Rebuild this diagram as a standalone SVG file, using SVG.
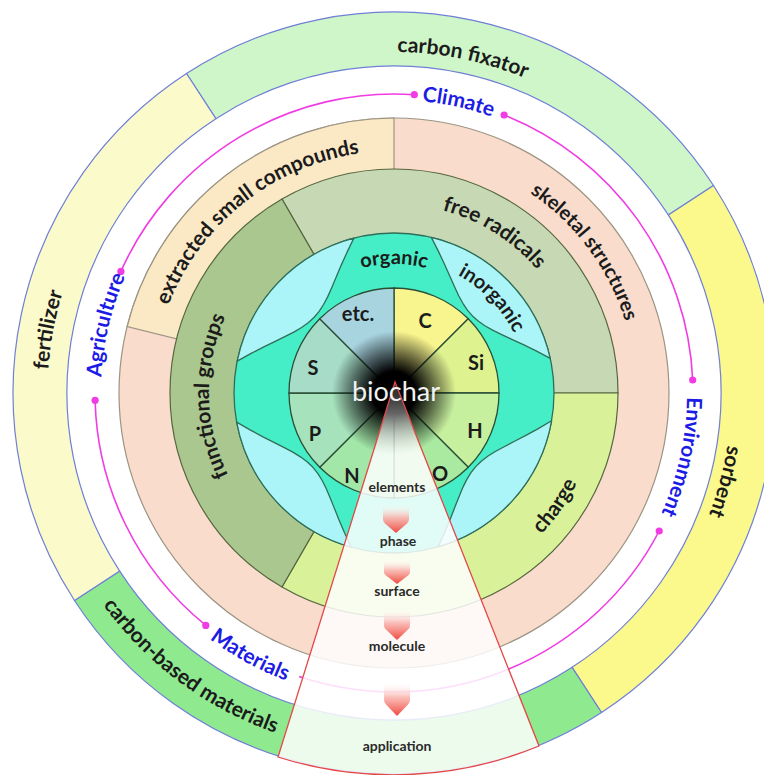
<svg xmlns="http://www.w3.org/2000/svg" width="764" height="775" viewBox="0 0 764 775">
<style>
.lbl{font-family:Lato,'Liberation Sans',sans-serif;font-weight:700;fill:#1b1b1b}
.blue{font-family:Lato,'Liberation Sans',sans-serif;font-weight:700;fill:#1c1ce6}
.el{font-family:Lato,'Liberation Sans',sans-serif;font-weight:700;fill:#1b1b1b;font-size:20px;text-anchor:middle;dominant-baseline:central}
.wl{font-family:Lato,'Liberation Sans',sans-serif;font-weight:700;fill:#2a2a2a;font-size:14px;text-anchor:middle}
.outer{stroke:#6f7fd6;stroke-width:1.2}
.r3{stroke:#9c9484;stroke-width:1.2}
.r2{stroke:#55663f;stroke-width:1.2}
.r1{stroke:#2f6e58;stroke-width:1.3;stroke-linejoin:round}
.r0{stroke:#2a4f36;stroke-width:1.3}
.mag{fill:none;stroke:#f03ce2;stroke-width:1.6}
.dot{fill:#f03ce2}
</style>
<defs>
<radialGradient id="core" cx="394" cy="393" r="62" gradientUnits="userSpaceOnUse">
<stop offset="0" stop-color="#000" stop-opacity="1"/>
<stop offset="0.35" stop-color="#000" stop-opacity="1"/>
<stop offset="0.65" stop-color="#000" stop-opacity="0.55"/>
<stop offset="1" stop-color="#000" stop-opacity="0"/>
</radialGradient>
<linearGradient id="wfill" x1="0" y1="395" x2="0" y2="455" gradientUnits="userSpaceOnUse">
<stop offset="0" stop-color="#fff" stop-opacity="0.2"/>
<stop offset="1" stop-color="#fff" stop-opacity="0.84"/>
</linearGradient>
<linearGradient id="ag" x1="0" y1="0" x2="0" y2="1">
<stop offset="0" stop-color="#fff" stop-opacity="0"/>
<stop offset="0.45" stop-color="#f9b2ac" stop-opacity="0.85"/>
<stop offset="1" stop-color="#ee4a40"/>
</linearGradient>
<path id="lens" d="M -84.8 -135.7 L -69.6 -130.9 L -56.2 -126.2 L -44.3 -121.7 L -33.8 -117.8 L -24.3 -114.4 L -15.7 -112 L -7.7 -110.5 L 0 -110 L 7.7 -110.5 L 15.7 -112 L 24.3 -114.4 L 33.8 -117.8 L 44.3 -121.7 L 56.2 -126.2 L 69.6 -130.9 L 84.8 -135.7 A 160 160 0 0 0 -84.8 -135.7 Z"/>
<path id="arr" d="M -13 0 L 13 0 L 13 16 Q 13 18 11 20 L 0 30 L -11 20 Q -13 18 -13 16 Z"/>
<path id="p-cf" d="M 231.8 93 A 341 341 0 0 1 661.2 181.2"/>
<path id="p-so" d="M 699.9 250.4 A 337.5 337.5 0 0 1 587.6 669.5"/>
<path id="p-cb" d="M 34.6 414.3 A 360 360 0 0 0 477.4 743.2"/>
<path id="p-fe" d="M 92.8 564.1 A 346.4 346.4 0 0 1 173.2 126.1"/>
<path id="p-cl" d="M 258.7 133.1 A 293 293 0 0 1 626.5 214.6"/>
<path id="p-en" d="M 653.9 257.7 A 293 293 0 0 1 572.4 625.5"/>
<path id="p-ma" d="M 108 504.5 A 306 306 0 0 0 454.1 694"/>
<path id="p-ag" d="M 132.2 524.6 A 293 293 0 0 1 218.9 158.1"/>
<path id="p-ex" d="M 153.5 365.6 A 242 242 0 0 1 421.4 152.5"/>
<path id="p-sk" d="M 429.8 153.7 A 242 242 0 0 1 633.3 428.8"/>
<path id="p-fg" d="M 265.5 526.1 A 185 185 0 0 1 260.9 264.5"/>
<path id="p-fr" d="M 351.5 208.8 A 189 189 0 0 1 578.2 350.5"/>
<path id="p-ch" d="M 446.8 590 A 204 204 0 0 0 597.2 375.2"/>
<path id="p-or" d="M 311.1 294.2 A 129 129 0 0 1 476.9 294.2"/>
<path id="p-in" d="M 408 259.7 A 134 134 0 0 1 527.7 383.6"/>
</defs>
<rect width="764" height="775" fill="#fff"/>

<!-- outer ring -->
<g id="carbon-fixator">
<path class="outer" fill="#cff6c8" d="M 186.5 73.5 A 381 381 0 0 1 713.5 185.5 L 668.3 214.9 A 327 327 0 0 0 215.9 118.7 Z"/>
<text class="lbl" font-size="21" text-anchor="middle"><textPath href="#p-cf" startOffset="50%">carbon fixator</textPath></text>
</g>
<g id="sorbent">
<path class="outer" fill="#fbf98c" d="M 713.5 185.5 A 381 381 0 0 1 601.5 712.5 L 572.1 667.3 A 327 327 0 0 0 668.3 214.9 Z"/>
<text class="lbl" font-size="21" text-anchor="middle"><textPath href="#p-so" startOffset="50%">sorbent</textPath></text>
</g>
<g id="carbon-based-materials">
<path class="outer" fill="#8ee98f" d="M 601.5 712.5 A 381 381 0 0 1 74.5 600.5 L 119.7 571.1 A 327 327 0 0 0 572.1 667.3 Z"/>
<text class="lbl" font-size="21" text-anchor="middle"><textPath href="#p-cb" startOffset="50%">carbon-based materials</textPath></text>
</g>
<g id="fertilizer">
<path class="outer" fill="#fbfacb" d="M 74.5 600.5 A 381 381 0 0 1 186.5 73.5 L 215.9 118.7 A 327 327 0 0 0 119.7 571.1 Z"/>
<text class="lbl" font-size="21" text-anchor="middle"><textPath href="#p-fe" startOffset="50%">fertilizer</textPath></text>
</g>

<!-- molecule ring -->
<g id="skeletal-structures">
<circle class="r3" cx="394" cy="393" r="275" fill="#f9dccb"/>
<text class="lbl" font-size="20" text-anchor="middle"><textPath href="#p-sk" startOffset="50%">skeletal structures</textPath></text>
</g>
<g id="extracted-small-compounds">
<path class="r3" fill="#fbe9c6" d="M 394 393 L 127.2 326.5 A 275 275 0 0 1 394 118 Z"/>
<text class="lbl" font-size="21" text-anchor="middle"><textPath href="#p-ex" startOffset="50%">extracted small compounds</textPath></text>
</g>

<!-- surface ring -->
<g id="free-radicals">
<path class="r2" fill="#c7d9b4" d="M 394 393 L 282 199 A 224 224 0 0 1 618 393 Z"/>
<text class="lbl" font-size="21" text-anchor="middle"><textPath href="#p-fr" startOffset="50%">free radicals</textPath></text>
</g>
<g id="charge">
<path class="r2" fill="#d9f29a" d="M 394 393 L 618 393 A 224 224 0 0 1 282 587 Z"/>
<text class="lbl" font-size="21" text-anchor="middle"><textPath href="#p-ch" startOffset="50%">charge</textPath></text>
</g>
<g id="functional-groups">
<path class="r2" fill="#a9c78e" d="M 394 393 L 282 587 A 224 224 0 0 1 282 199 Z"/>
<text class="lbl" font-size="21" text-anchor="middle"><textPath href="#p-fg" startOffset="50%">functional groups</textPath></text>
</g>

<!-- phase ring -->
<g id="organic">
<circle class="r1" cx="394" cy="393" r="160" fill="#45eec6"/>
<text class="lbl" font-size="20" text-anchor="middle"><textPath href="#p-or" startOffset="50%">organic</textPath></text>
</g>
<g id="inorganic">
<use href="#lens" class="r1" fill="#abf5f8" transform="translate(394 393) rotate(313.5)"/>
<use href="#lens" class="r1" fill="#abf5f8" transform="translate(394 393) rotate(45.5)"/>
<use href="#lens" class="r1" fill="#abf5f8" transform="translate(394 393) rotate(132)"/>
<use href="#lens" class="r1" fill="#abf5f8" transform="translate(394 393) rotate(227.5)"/>
<text class="lbl" font-size="20" text-anchor="middle"><textPath href="#p-in" startOffset="50%">inorganic</textPath></text>
</g>

<!-- elements -->
<g id="elements">
<path class="r0" fill="#f8f48e" d="M 394 393 L 394 288 A 105 105 0 0 1 468.25 318.75 Z"/>
<path class="r0" fill="#dff290" d="M 394 393 L 468.25 318.75 A 105 105 0 0 1 499 393 Z"/>
<path class="r0" fill="#c6ef9e" d="M 394 393 L 499 393 A 105 105 0 0 1 468.25 467.25 Z"/>
<path class="r0" fill="#aae9a0" d="M 394 393 L 468.25 467.25 A 105 105 0 0 1 394 498 Z"/>
<path class="r0" fill="#a2e6a8" d="M 394 393 L 394 498 A 105 105 0 0 1 319.75 467.25 Z"/>
<path class="r0" fill="#a6e2bc" d="M 394 393 L 319.75 467.25 A 105 105 0 0 1 289 393 Z"/>
<path class="r0" fill="#a6dcc8" d="M 394 393 L 289 393 A 105 105 0 0 1 319.75 318.75 Z"/>
<path class="r0" fill="#a8d4e0" d="M 394 393 L 319.75 318.75 A 105 105 0 0 1 394 288 Z"/>
<text class="el" x="425" y="320">C</text>
<text class="el" x="476" y="362">Si</text>
<text class="el" x="475" y="430">H</text>
<text class="el" x="440" y="473">O</text>
<text class="el" x="352" y="475">N</text>
<text class="el" x="315" y="433">P</text>
<text class="el" x="313" y="367">S</text>
<text class="el" x="358" y="313">etc.</text>
</g>

<!-- application-level arcs -->
<g id="connectors">
<path class="mag" d="M 120.9 271.4 A 299 299 0 0 1 414.3 94.7"/>
<path class="mag" d="M 504.1 115 A 299 299 0 0 1 692.7 380"/>
<path class="mag" d="M 659.2 531 A 299 299 0 0 1 299.1 676.5"/>
<path class="mag" d="M 205.8 625.4 A 299 299 0 0 1 95.1 400.3"/>
<circle class="dot" cx="414.3" cy="94.7" r="3.6"/>
<circle class="dot" cx="504.1" cy="115" r="3.6"/>
<circle class="dot" cx="692.7" cy="380" r="3.6"/>
<circle class="dot" cx="659.2" cy="531" r="3.6"/>
<circle class="dot" cx="205.8" cy="625.4" r="3.6"/>
<circle class="dot" cx="95.1" cy="400.3" r="3.6"/>
<circle class="dot" cx="120.9" cy="271.4" r="3.6"/>
</g>
<g id="climate"><text class="blue" font-size="21" text-anchor="middle"><textPath href="#p-cl" startOffset="50%">Climate</textPath></text></g>
<g id="environment"><text class="blue" font-size="21" text-anchor="middle"><textPath href="#p-en" startOffset="50%">Environment</textPath></text></g>
<g id="materials"><text class="blue" font-size="21" text-anchor="middle"><textPath href="#p-ma" startOffset="50%">Materials</textPath></text></g>
<g id="agriculture"><text class="blue" font-size="21" text-anchor="middle"><textPath href="#p-ag" startOffset="50%">Agriculture</textPath></text></g>

<!-- biochar core -->
<g id="biochar">
<circle cx="394" cy="393" r="62" fill="url(#core)"/>
</g>

<!-- scale wedge -->
<g id="scale-wedge">
<path d="M 395 382 L 278 757 A 382 382 0 0 0 539 746 Z" fill="url(#wfill)" stroke="#e34848" stroke-width="1.3"/>
<use href="#arr" fill="url(#ag)" transform="translate(396 504) scale(1 0.97)"/>
<use href="#arr" fill="url(#ag)" transform="translate(397 559) scale(1 0.83)"/>
<use href="#arr" fill="url(#ag)" transform="translate(397 609) scale(1 1.03)"/>
<use href="#arr" fill="url(#ag)" transform="translate(397 682) scale(1 1.13)"/>
<text class="wl" x="397" y="492">elements</text>
<text class="wl" x="398" y="546">phase</text>
<text class="wl" x="397" y="596">surface</text>
<text class="wl" x="397" y="651">molecule</text>
<text class="wl" x="397" y="751">application</text>
</g>
<text x="396" y="401" font-family="Lato,'Liberation Sans',sans-serif" font-size="27" fill="#f2f2f2" text-anchor="middle">biochar</text>
</svg>
